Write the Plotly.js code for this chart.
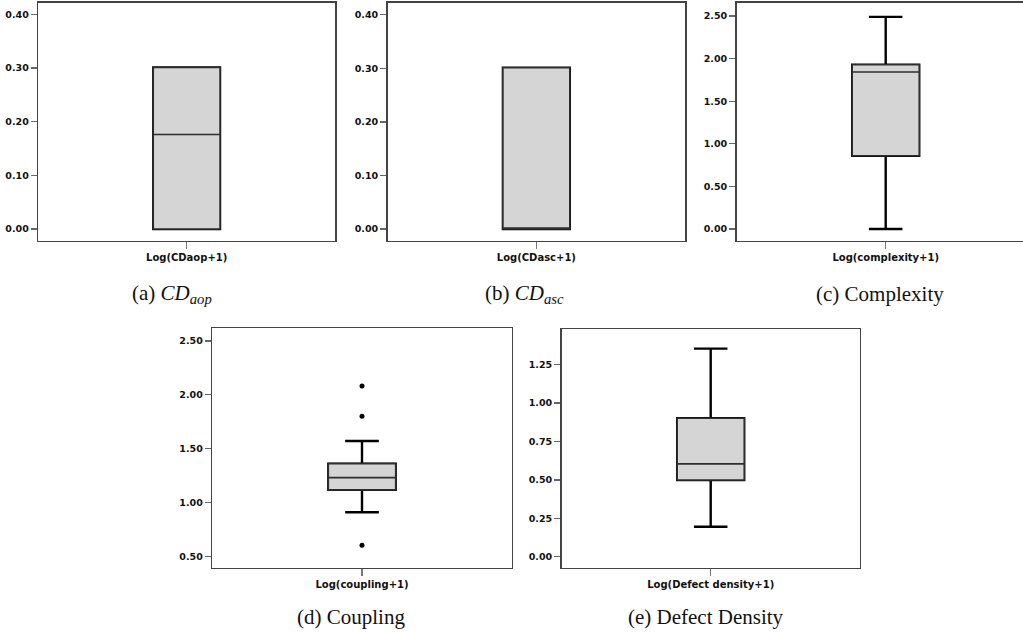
<!DOCTYPE html>
<html>
<head>
<meta charset="utf-8">
<script src="https://cdn.plot.ly/plotly-3.0.1.min.js"></script>
<style>
  html, body { margin: 0; padding: 0; overflow: hidden; background: #fff; }
  #chart { width: 1035px; height: 636px; }
</style>
</head>
<body>
<div id="chart"></div>
<script>
// Summary statistics of the log-transformed metrics
const axisLabels = ['Log(CDaop+1)', 'Log(CDasc+1)', 'Log(complexity+1)', 'Log(coupling+1)', 'Log(Defect density+1)'];
const captions = ['(a) <i>CD</i><sub><i>aop</i></sub>', '(b) <i>CD</i><sub><i>asc</i></sub>', '(c) Complexity', '(d) Coupling', '(e) Defect Density'];

const lowerWhisker = [0.000, 0.000, 0.000, 0.909, 0.195];
const q1Values     = [0.000, 0.000, 0.860, 1.117, 0.499];
const medians      = [0.176, 0.000, 1.843, 1.231, 0.604];
const q3Values     = [0.301, 0.301, 1.928, 1.361, 0.901];
const upperWhisker = [0.301, 0.301, 2.490, 1.571, 1.354];

// Outlying observations (coupling only)
const couplingOutliers = [0.603, 1.801, 2.082];

const yTickValues = [
  [0, 0.1, 0.2, 0.3, 0.4],
  [0, 0.1, 0.2, 0.3, 0.4],
  [0, 0.5, 1.0, 1.5, 2.0, 2.5],
  [0.5, 1.0, 1.5, 2.0, 2.5],
  [0, 0.25, 0.5, 0.75, 1.0, 1.25]
];

// Panel layout (pixel frames inside the drawing area)
const W = 1035, H = 636;
const frames = [
  {l: 38.3,  r: 335.0,  t: 2.7,   b: 240.7},
  {l: 387.7, r: 685.0,  t: 3.0,   b: 240.7},
  {l: 736.7, r: 1034.7, t: 3.0,   b: 240.7},
  {l: 212.3, r: 511.7,  t: 328.3, b: 567.7},
  {l: 561.7, r: 859.7,  t: 329.3, b: 567.7}
];
const yRanges = [[-0.0218, 0.4216], [-0.0218, 0.4218], [-0.137, 2.653], [0.394, 2.618], [-0.0716, 1.480]];
const captionPos = [{x: 172, y: 294}, {x: 524, y: 294}, {x: 880, y: 294}, {x: 351, y: 617}, {x: 706, y: 617}];

const tickFont = {family: 'DejaVu Sans, sans-serif', size: 9.5, color: '#111', weight: 'bold'};
const labelFont = {family: 'DejaVu Sans, sans-serif', size: 10, color: '#111', weight: 'bold'};

const traces = [];
const layout = {
  width: W, height: H,
  margin: {l: 0, r: 0, t: 0, b: 0},
  paper_bgcolor: '#fff', plot_bgcolor: '#fff',
  showlegend: false,
  boxmode: 'overlay',
  annotations: []
};

for (let i = 0; i < 5; i++) {
  const n = i === 0 ? '' : String(i + 1);
  const xa = 'x' + n, ya = 'y' + n;
  const f = frames[i];

  // whiskers and caps
  traces.push({
    type: 'box', xaxis: xa, yaxis: ya,
    x: [0], q1: [q1Values[i]], median: [medians[i]], q3: [q3Values[i]],
    lowerfence: [lowerWhisker[i]], upperfence: [upperWhisker[i]],
    width: 0.45, whiskerwidth: 0.5,
    fillcolor: '#d5d5d5',
    line: {color: '#000', width: 2.4},
    hoverinfo: 'skip'
  });
  // interquartile box drawn over the whiskers
  traces.push({
    type: 'box', xaxis: xa, yaxis: ya,
    x: [0], q1: [q1Values[i]], median: [medians[i]], q3: [q3Values[i]],
    lowerfence: [q1Values[i]], upperfence: [q3Values[i]],
    width: 0.45, whiskerwidth: 0.5,
    fillcolor: '#d5d5d5',
    line: {color: '#2e2e2e', width: 1.6},
    hoverinfo: 'skip'
  });

  layout['xaxis' + n] = {
    domain: [f.l / W, f.r / W],
    anchor: ya,
    range: [-1, 1],
    tickmode: 'array', tickvals: [0], ticktext: [axisLabels[i]],
    ticks: 'outside', ticklen: 7, tickwidth: 1.5, tickcolor: '#777',
    tickfont: labelFont,
    showline: true, mirror: true, linecolor: '#444', linewidth: 1.6,
    showgrid: false, zeroline: false, fixedrange: true
  };
  layout['yaxis' + n] = {
    domain: [(H - f.b) / H, (H - f.t) / H],
    anchor: xa,
    range: yRanges[i],
    tickmode: 'array', tickvals: yTickValues[i],
    tickformat: '.2f',
    ticks: 'outside', ticklen: 6, tickwidth: 1.3, tickcolor: '#666',
    ticklabelstandoff: 0,
    tickfont: tickFont,
    showline: true, mirror: true, linecolor: '#444', linewidth: 1.6,
    showgrid: false, zeroline: false, fixedrange: true
  };

  layout.annotations.push({
    text: captions[i],
    xref: 'paper', yref: 'paper',
    x: captionPos[i].x / W, y: (H - captionPos[i].y) / H,
    xanchor: 'center', yanchor: 'middle',
    showarrow: false,
    font: {family: 'Liberation Serif, serif', size: 21, color: '#111'}
  });
}

// outlier markers for coupling
traces.push({
  type: 'scatter', mode: 'markers', xaxis: 'x4', yaxis: 'y4',
  x: couplingOutliers.map(() => 0), y: couplingOutliers,
  marker: {color: '#000', size: 5},
  hoverinfo: 'skip'
});

Plotly.newPlot('chart', traces, layout, {displayModeBar: false, staticPlot: true});
</script>
</body>
</html>
